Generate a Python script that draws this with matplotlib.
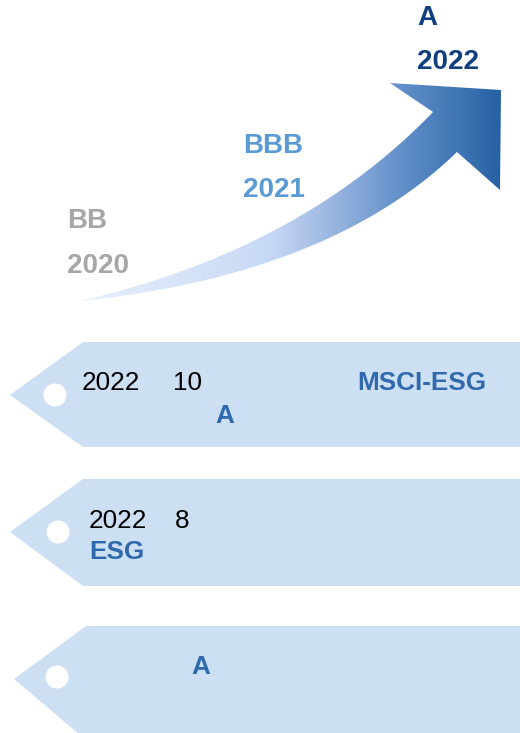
import numpy as np
import matplotlib
matplotlib.use("Agg")
import matplotlib.pyplot as plt
from matplotlib.patches import Polygon, Circle
from matplotlib.colors import LinearSegmentedColormap

plt.rcParams['font.family'] = ['Liberation Sans', 'DejaVu Sans']

# ---- data ----
ratings = ['BB', 'BBB', 'A']
years = ['2020', '2021', '2022']
rating_colors = ['#a6a6a6', '#5b9bd5', '#0f3f7f']
label_x = [67, 243, 417]
rating_base = [228, 153, 25]
year_base = [273, 197, 69]

tag_tops = [342, 479, 626]
tag_bottoms = [447, 586, 740]
tag_tip_x = [10, 10, 14]
tag_tip_y = [395, 532, 679]
tag_body_x = [83, 83, 86]
hole_centers = [(55, 395), (58, 532), (57, 677)]

W, H = 520, 733
fig = plt.figure(figsize=(W / 100, H / 100), dpi=100)
ax = fig.add_axes([0, 0, 1, 1])
ax.set_xlim(0, W)
ax.set_ylim(H, 0)
ax.axis('off')

# ---- curved arrow with gradient ----
def qbez(p0, c, p1, n=60):
    t = np.linspace(0, 1, n)[:, None]
    return (1 - t) ** 2 * np.array(p0) + 2 * (1 - t) * t * np.array(c) + t ** 2 * np.array(p1)

upper = qbez((80, 301), (300, 250), (433, 112))
lower = qbez((80, 301), (330, 275), (457, 152))
head = np.array([(390, 83), (501, 90), (500, 190), (457, 152)])
pts = np.vstack([upper, head, lower[::-1]])
arrow_patch = Polygon(pts, closed=True, facecolor='none', edgecolor='none')
ax.add_patch(arrow_patch)

cmap = LinearSegmentedColormap.from_list('arr', [
    (0.0, (0.91, 0.94, 0.985)),
    (0.45, (0.78, 0.85, 0.96)),
    (0.60, (0.60, 0.71, 0.88)),
    (0.78, (0.36, 0.55, 0.78)),
    (1.0, (0.15, 0.38, 0.64)),
])
grad = np.linspace(0, 1, 256)[None, :]
im = ax.imshow(grad, extent=(80, 502, 305, 80), cmap=cmap, aspect='auto',
               interpolation='bilinear', zorder=2)
im.set_clip_path(arrow_patch)
ax.set_xlim(0, W)
ax.set_ylim(H, 0)

# ---- rating labels ----
for r, y, c, x, rb, yb in zip(ratings, years, rating_colors, label_x, rating_base, year_base):
    ax.text(x, rb, r, color=c, fontsize=20, fontweight='bold', va='baseline', ha='left', zorder=3)
    ax.text(x, yb, y, color=c, fontsize=20, fontweight='bold', va='baseline', ha='left', zorder=3)

# ---- tags ----
tag_color = '#cddff2'
for top, bot, tip, tipy, bx, (cx, cy) in zip(tag_tops, tag_bottoms, tag_tip_x, tag_tip_y,
                                             tag_body_x, hole_centers):
    poly = Polygon([(bx, top), (W, top), (W, bot), (bx, bot), (tip, tipy)],
                   closed=True, facecolor=tag_color, edgecolor='none', zorder=1)
    ax.add_patch(poly)
    ax.add_patch(Circle((cx, cy), 11.5, facecolor='white', edgecolor='none', zorder=2))

blue = '#2e6aad'
fs = 18.8
ax.text(82, 390, '2022', fontsize=fs, color='black', va='baseline', zorder=3)
ax.text(173, 390, '10', fontsize=fs, color='black', va='baseline', zorder=3)
ax.text(357, 390, 'MSCI-ESG', fontsize=fs, color=blue, fontweight='bold', va='baseline', zorder=3)
ax.text(215, 423, 'A', fontsize=fs, color=blue, fontweight='bold', va='baseline', zorder=3)

ax.text(89, 528, '2022', fontsize=fs, color='black', va='baseline', zorder=3)
ax.text(175, 528, '8', fontsize=fs, color='black', va='baseline', zorder=3)
ax.text(89, 559, 'ESG', fontsize=fs, color=blue, fontweight='bold', va='baseline', zorder=3)

ax.text(191, 674, 'A', fontsize=fs, color=blue, fontweight='bold', va='baseline', zorder=3)

fig.savefig('out.png', dpi=100)
